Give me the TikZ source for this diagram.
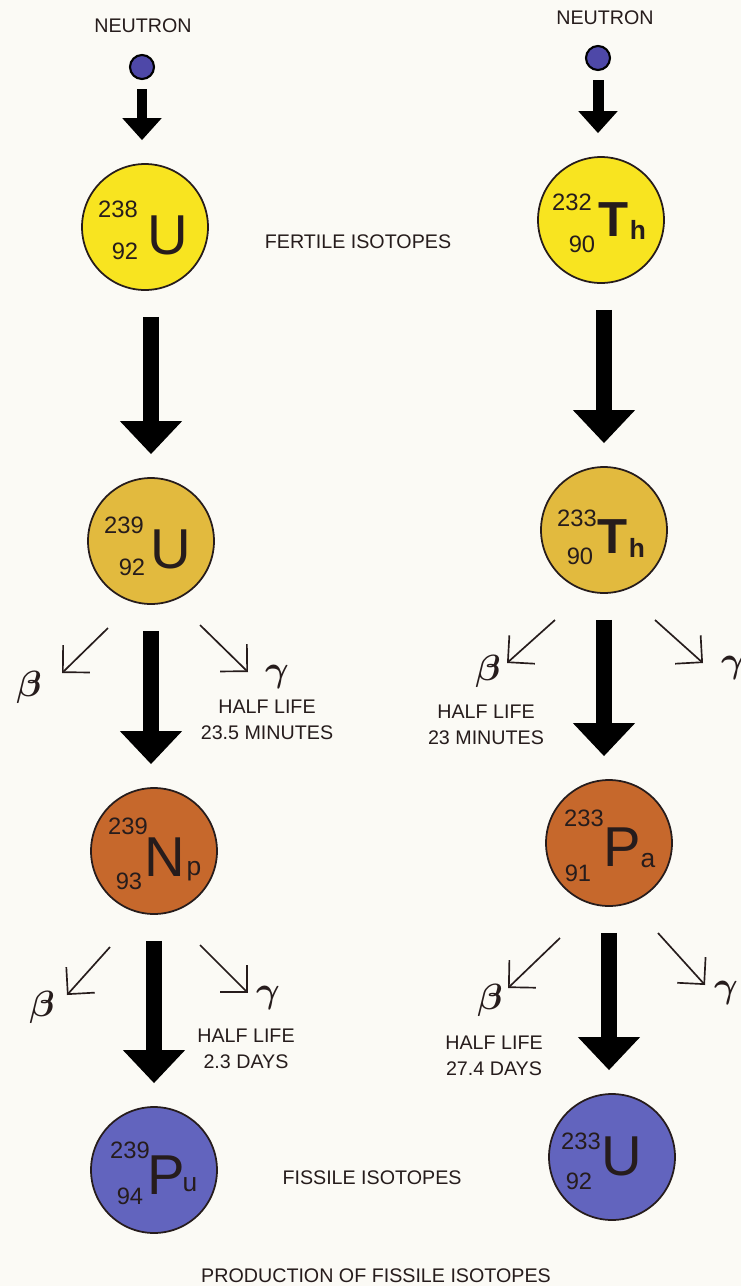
\documentclass[tikz,border=0pt]{standalone}
\usepackage{fontspec}
\setmainfont{Liberation Sans}
\usetikzlibrary{arrows.meta}
\definecolor{paper}{RGB}{251,250,245}
\definecolor{ink}{RGB}{38,28,28}
\definecolor{fertile}{RGB}{248,228,32}
\definecolor{gold}{RGB}{226,186,62}
\definecolor{rust}{RGB}{198,104,44}
\definecolor{fissile}{RGB}{98,100,190}
\definecolor{dot}{RGB}{78,72,168}

\begin{document}
\begin{tikzpicture}[
    x=0.02cm, y=-0.02cm,
    nucleus/.style={circle, draw=ink, line width=1pt, minimum size=2.52cm, inner sep=0pt},
    neutron/.style={circle, draw=black, line width=1.2pt, fill=dot, minimum size=0.48cm, inner sep=0pt},
    nums/.style={inner sep=0pt, text=ink, font=\fontsize{13.5}{14}\selectfont},
    sym/.style={inner sep=0pt, text=ink, font=\fontsize{32}{32}\selectfont},
    thsym/.style={inner sep=0pt, text=ink, font=\bfseries\fontsize{28}{28}\selectfont},
    small/.style={inner sep=0pt, text=ink, font=\fontsize{15}{15}\selectfont},
    caption/.style={inner sep=0pt, text=ink, align=center, font=\fontsize{11.2}{14.8}\selectfont},
    greek/.style={inner sep=0pt, text=ink, font=\fontsize{22}{22}\selectfont\boldmath},
    capture/.style={draw=black, line width=0.22cm, -{Triangle[width=0.76cm, length=0.44cm]},
        shorten <=0.18cm, shorten >=0.46cm},
    transmute/.style={draw=black, line width=0.32cm, -{Triangle[width=1.2cm, length=0.66cm]},
        shorten <=0.52cm, shorten >=0.46cm},
    decay/.style={draw=ink, line width=0.95pt, -{Straight Barb[angle=90:0.54cm]}}
]
\fill[paper] (0,0) rectangle (741,1286);
\useasboundingbox (0,0) rectangle (741,1286);

% Neutrons
\node[caption] (nlbl1) at (143,26) {NEUTRON};
\node[neutron] (n1) at (142,67) {};
\node[caption] (nlbl2) at (605,18) {NEUTRON};
\node[neutron] (n2) at (598,58) {};

% Fertile isotopes (uranium chain on the left)
\node[nucleus, fill=fertile] (u238) at (145,227) {};
\node[nums] (u238a) at (118,209) {238};
\node[nums] (u238z) at (125,251) {92};
\node[sym] (u238s) at (168,235) {U};

% Fertile isotopes (thorium chain on the right)
\node[nucleus, fill=fertile] (th232) at (601,220) {};
\node[nums] (th232a) at (572,202) {232};
\node[nums] (th232z) at (582,244) {90};
\node[thsym] (th232s) at (614,220) {T};
\node[small, font=\bfseries\fontsize{15}{15}\selectfont] (th232h) at (638,230) {h};

\node[caption] (fertile) at (358,242) {FERTILE ISOTOPES};

% After capture
\node[nucleus, fill=gold] (u239) at (151,541) {};
\node[nums] (u239a) at (124,525) {239};
\node[nums] (u239z) at (132,567) {92};
\node[sym] (u239s) at (171,549) {U};

\node[nucleus, fill=gold] (th233) at (604,530) {};
\node[nums] (th233a) at (577,518) {233};
\node[nums] (th233z) at (580,556) {90};
\node[thsym] (th233s) at (613,537) {T};
\node[small, font=\bfseries\fontsize{15}{15}\selectfont] (th233h) at (637,548) {h};

% First beta decay
\node[nucleus, fill=rust] (np239) at (154,851) {};
\node[nums] (np239a) at (128,826) {239};
\node[nums] (np239z) at (129,881) {93};
\node[sym] (np239s) at (165,857) {N};
\node[small] (np239p) at (194,871) {p};

\node[nucleus, fill=rust] (pa233) at (609,843) {};
\node[nums] (pa233a) at (584,818) {233};
\node[nums] (pa233z) at (578,873) {91};
\node[sym] (pa233s) at (622,847) {P};
\node[small] (pa233l) at (648,861) {a};

% Fissile isotopes
\node[nucleus, fill=fissile] (pu239) at (154,1170) {};
\node[nums] (pu239a) at (130,1150) {239};
\node[nums] (pu239z) at (130,1196) {94};
\node[sym] (pu239s) at (166,1175) {P};
\node[small] (pu239u) at (190,1185) {u};

\node[nucleus, fill=fissile] (u233) at (612,1157) {};
\node[nums] (u233a) at (581,1141) {233};
\node[nums] (u233z) at (579,1181) {92};
\node[sym] (u233s) at (622,1156) {U};

\node[caption] (fissile) at (372,1178) {FISSILE ISOTOPES};
\node[caption] (title) at (376,1276) {PRODUCTION OF FISSILE ISOTOPES};

% Half lives
\node[caption] (hl1) at (267,720) {HALF LIFE\\23.5 MINUTES};
\node[caption] (hl2) at (486,725) {HALF LIFE\\23 MINUTES};
\node[caption] (hl3) at (246,1049) {HALF LIFE\\2.3 DAYS};
\node[caption] (hl4) at (494,1056) {HALF LIFE\\27.4 DAYS};

% Beta and gamma labels
\node[greek] (b1) at (29,687) {$\beta$};
\node[greek] (g1) at (277,677) {$\gamma$};
\node[greek] (b2) at (488,671) {$\beta$};
\node[greek] (g2) at (733,668) {$\gamma$};
\node[greek] (b3) at (42,1007) {$\beta$};
\node[greek] (g3) at (268,998) {$\gamma$};
\node[greek] (b4) at (490,1000) {$\beta$};
\node[greek] (g4) at (726,993) {$\gamma$};

% Ends of the decay arrows
\coordinate (b1s) at (108,628);  \coordinate (b1e) at (62,673);
\coordinate (g1s) at (200,625);  \coordinate (g1e) at (248,672);
\coordinate (b2s) at (555,620);  \coordinate (b2e) at (507,663);
\coordinate (g2s) at (655,620);  \coordinate (g2e) at (703,663);
\coordinate (b3s) at (110,947);  \coordinate (b3e) at (67,995);
\coordinate (g3s) at (200,945);  \coordinate (g3e) at (248,993);
\coordinate (b4s) at (560,938);  \coordinate (b4e) at (508,988);
\coordinate (g4s) at (658,933);  \coordinate (g4e) at (705,985);

% Neutron capture arrows
\draw[capture] (n1.south) -- (n1.south |- u238.north);
\draw[capture] (n2.south) -- (n2.south |- th232.north);

% Big arrows down the chains
\draw[transmute] (u239.north |- u238.south) -- (u239.north);
\draw[transmute] (u239.south) -- (u239.south |- np239.north);
\draw[transmute] (np239.south) -- (np239.south |- pu239.north);
\draw[transmute] (th233.north |- th232.south) -- (th233.north);
\draw[transmute] (th233.south) -- (th233.south |- pa233.north);
\draw[transmute] (pa233.south) -- (pa233.south |- u233.north);

% Decay arrows
\foreach \k in {1,2,3,4} {
    \draw[decay] (b\k s) -- (b\k e);
    \draw[decay] (g\k s) -- (g\k e);
}

\end{tikzpicture}
\end{document}
